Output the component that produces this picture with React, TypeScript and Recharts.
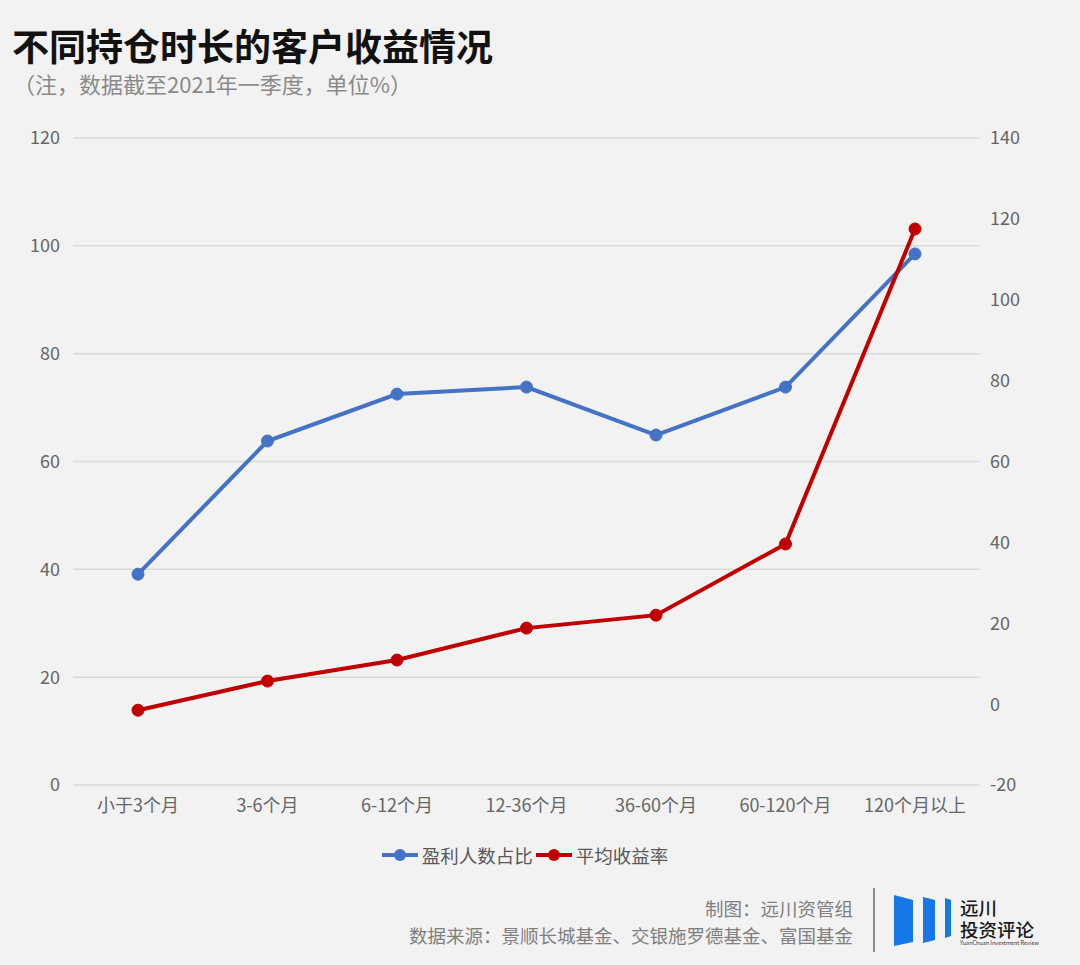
import { LineChart, Line, XAxis, YAxis, CartesianGrid, Legend } from 'recharts'

const categories = ['小于3个月', '3-6个月', '6-12个月', '12-36个月', '36-60个月', '60-120个月', '120个月以上']
const profitShare = [39.1, 63.8, 72.5, 73.8, 64.9, 73.8, 98.5]
const avgReturn = [-1.5, 5.7, 10.9, 18.8, 22, 39.6, 117.5]
const leftTicks = [0, 20, 40, 60, 80, 100, 120]
const rightTicks = [-20, 0, 20, 40, 60, 80, 100, 120, 140]
const seriesNames = ['盈利人数占比', '平均收益率']

const BLUE = '#4472c4'
const RED = '#c00000'
const FONT = '"Noto Sans CJK SC", "Noto Sans", sans-serif'

const chartData = categories.map((name, i) => ({
  name,
  share: profitShare[i],
  ret: avgReturn[i],
}))

function LegendContent(props: any) {
  const items = [...(props.payload || [])].sort(
    (a: any, b: any) => seriesNames.indexOf(a.value) - seriesNames.indexOf(b.value),
  )
  return (
    <div style={{ display: 'flex', justifyContent: 'center', alignItems: 'center' }}>
      {items.map((it: any) => (
        <div key={it.value} style={{ display: 'flex', alignItems: 'center', marginRight: 3 }}>
          <svg width={36} height={14} style={{ marginRight: 4 }}>
            <line x1={0} y1={7} x2={36} y2={7} stroke={it.color} strokeWidth={4} />
            <circle cx={18} cy={7} r={6} fill={it.color} />
          </svg>
          <span style={{ fontSize: 18.5, color: '#595959', fontFamily: FONT }}>{it.value}</span>
        </div>
      ))}
    </div>
  )
}

export default function App() {
  const tick = { fontSize: 18, fill: '#666666', fontFamily: FONT }
  return (
    <div
      style={{
        position: 'absolute',
        top: 0,
        left: 0,
        width: 1080,
        height: 965,
        background: '#f2f2f2',
        fontFamily: FONT,
        overflow: 'hidden',
      }}
    >
      <div style={{ position: 'absolute', left: 12, top: 27, fontSize: 37, fontWeight: 700, color: '#111', lineHeight: 1 }}>
        不同持仓时长的客户收益情况
      </div>
      <div style={{ position: 'absolute', left: 13, top: 72, fontSize: 22, color: '#8a8a8a', lineHeight: 1 }}>
        （注，数据截至2021年一季度，单位%）
      </div>

      <div style={{ position: 'absolute', left: 0, top: 0 }}>
        <LineChart
          width={1080}
          height={880}
          data={chartData}
          margin={{ top: 138, right: 40, bottom: 65, left: 13 }}
        >
          <CartesianGrid yAxisId="left" vertical={false} stroke="#d9d9d9" strokeWidth={1.5} />
          <XAxis
            dataKey="name"
            axisLine={false}
            tickLine={false}
            tick={tick}
            tickMargin={8}
            height={30}
            interval={0}
            padding={{ left: 65, right: 65 }}
          />
          <YAxis
            yAxisId="left"
            domain={[0, 120]}
            ticks={leftTicks}
            width={60}
            axisLine={false}
            tickLine={false}
            tick={tick}
            tickMargin={7}
          />
          <YAxis
            yAxisId="right"
            orientation="right"
            domain={[-20, 140]}
            ticks={rightTicks}
            width={60}
            axisLine={false}
            tickLine={false}
            tick={{ ...tick, textAnchor: 'start' }}
            tickMargin={4}
          />
          <Legend
            layout="horizontal"
            verticalAlign="middle"
            align="center"
            content={LegendContent}
            wrapperStyle={{ top: 842, left: 13, width: 1027 }}
          />
          <Line
            yAxisId="left"
            dataKey="share"
            name="盈利人数占比"
            stroke={BLUE}
            strokeWidth={4}
            dot={{ r: 6, fill: BLUE, stroke: BLUE, strokeWidth: 1 }}
            activeDot={false}
            isAnimationActive={false}
          />
          <Line
            yAxisId="right"
            dataKey="ret"
            name="平均收益率"
            stroke={RED}
            strokeWidth={4}
            dot={{ r: 6, fill: RED, stroke: RED, strokeWidth: 1 }}
            activeDot={false}
            isAnimationActive={false}
          />
        </LineChart>
      </div>

      <div style={{ position: 'absolute', right: 227, top: 895, fontSize: 18.5, color: '#7f7f7f', textAlign: 'right', lineHeight: '27px' }}>
        <div>制图：远川资管组</div>
        <div>数据来源：景顺长城基金、交银施罗德基金、富国基金</div>
      </div>
      <div style={{ position: 'absolute', left: 873, top: 888, width: 2, height: 64, background: '#8c8c8c' }} />
      <svg style={{ position: 'absolute', left: 890, top: 878 }} width={170} height={76}>
        <polygon points="4,17 23,22 23,64 4,68" fill="#1677e6" />
        <polygon points="33,19 45,22 45,62 33,65" fill="#1677e6" />
        <polygon points="55,20 61,22 61,58 55,60" fill="#1677e6" />
        <text x={70} y={37} fontSize={18.5} fontWeight={500} fill="#1a1a1a" fontFamily={FONT}>远川</text>
        <text x={70} y={59} fontSize={18.5} fontWeight={500} fill="#1a1a1a" fontFamily={FONT}>投资评论</text>
        <text x={70} y={67} fontSize={5.5} fill="#333" fontFamily={FONT}>YuanChuan Investment Review</text>
      </svg>
    </div>
  )
}
